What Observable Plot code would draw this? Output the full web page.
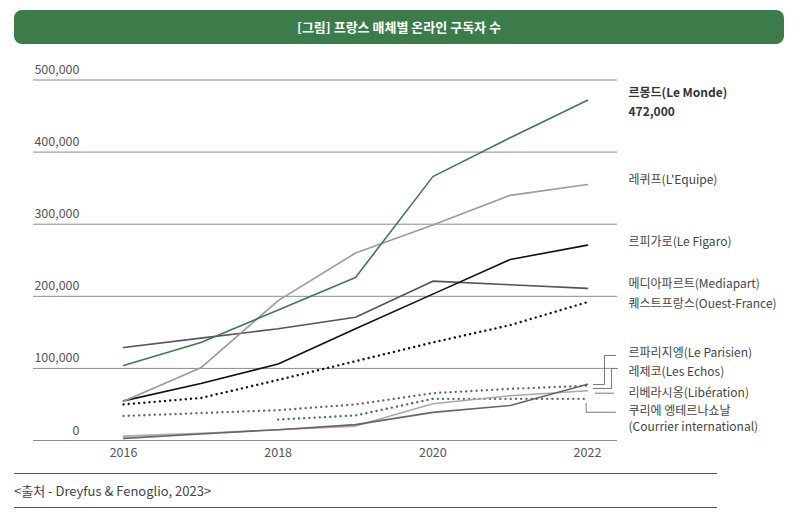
<!DOCTYPE html>
<html>
<head>
<meta charset="utf-8">
<script src="https://cdn.jsdelivr.net/npm/d3@7"></script>
<script src="https://cdn.jsdelivr.net/npm/@observablehq/plot@0.6"></script>
<style>
  html, body { margin: 0; padding: 0; background: #fff; }
  #wrap { position: relative; width: 798px; height: 521px; font-family: "Noto Sans CJK KR", "Noto Sans", sans-serif; }
  #title { position: absolute; left: 14px; top: 10px; width: 770px; height: 34px; background: #3c7b4a; border-radius: 8px;
           color: #fff; font-weight: 700; font-size: 13px; line-height: 34px; text-align: center; }
  #chart { position: absolute; left: 0; top: 50px; }
  #rule1, #rule2 { position: absolute; left: 14px; width: 703px; height: 0; border-top: 1.3px solid #555; }
  #rule1 { top: 473px; } #rule2 { top: 507px; }
  #source { position: absolute; left: 14px; top: 482px; font-size: 13px; color: #444; line-height: 18px; }
</style>
</head>
<body>
<div id="wrap">
  <div id="title">[그림] 프랑스 매체별 온라인 구독자 수</div>
  <div id="chart"></div>
  <div id="rule1"></div>
  <div id="source">&lt;출처 - Dreyfus &amp; Fenoglio, 2023&gt;</div>
  <div id="rule2"></div>
</div>
<script>
// ---- data ----
const years = [2016, 2017, 2018, 2019, 2020, 2021, 2022];
const leMonde     = [104000, 136000, 181000, 226000, 366000, 420000, 472000];
const lEquipe     = [54500, 100800, 194000, 260000, 299000, 340000, 355000];
const leFigaro    = [55000, 79000, 106000, 155000, 203000, 251000, 271000];
const mediapart   = [129000, 142000, 155000, 171000, 221000, 216000, 211000];
const ouestFrance = [50000, 59000, 84000, 110000, 136000, 160000, 192000];
const leParisien  = [3000, 9000, 15000, 22000, 39000, 48500, 78000];
const lesEchos    = [34000, 38000, 42000, 50000, 65600, 71600, 76000];
const liberation  = [6000, 10000, 15000, 20000, 51000, 62000, 69000];
const courrier    = [null, null, 29000, 34700, 57800, 57800, 57800];

const yTicks = [0, 100000, 200000, 300000, 400000, 500000];
const xTicks = [2016, 2018, 2020, 2022];

// right-side labels (text, y position in value units, weight)
const labelTexts = ["르몽드(Le Monde)", "472,000", "레퀴프(L'Equipe)", "르피가로(Le Figaro)", "메디아파르트(Mediapart)",
  "퀘스트프랑스(Ouest-France)", "르파리지엥(Le Parisien)", "레제코(Les Echos)", "리베라시옹(Libération)",
  "쿠리에 엥테르나쇼날", "(Courrier international)"];
const labelY = [481800, 455800, 360600, 274600, 216400, 188600, 120700, 94300, 65200, 40200, 18000];
const labelBold = [true, true, false, false, false, false, false, false, false, false, false];
const labelX = 2022.53;

// leader lines for crowded labels (x in years, y in values)
const connId = ["p","p","p","p", "e","e","e","e", "l","l", "c","c","c"];
const connX  = [2022.362, 2022.220, 2022.220, 2022.078,  2022.388, 2022.310, 2022.310, 2022.078,  2022.103, 2022.336,  2021.983, 2021.983, 2022.362];
const connY  = [117900, 117900, 77700, 77700,  99900, 99900, 72100, 72100,  65600, 65600,  51300, 39200, 39200];

// ---- build tables ----
function rows(arr) {
  return years.map((yr, i) => ({year: yr, value: arr[i]})).filter(d => d.value != null);
}
const labels = labelTexts.map((t, i) => ({text: t, y: labelY[i], bold: labelBold[i], x: labelX}));
const conns = connId.map((id, i) => ({id, x: connX[i], y: connY[i]}));

const green = "#3c7b4a";
const solid = (arr, color) => Plot.line(rows(arr), {x: "year", y: "value", stroke: color, strokeWidth: 1.6});
const dotted = (arr, color) => Plot.line(rows(arr), {x: "year", y: "value", stroke: color, strokeWidth: 2.4,
  strokeDasharray: "0.01,5.2", strokeLinecap: "round"});

const chart = Plot.plot({
  width: 798,
  height: 415,
  marginLeft: 33,
  marginRight: 181,
  marginTop: 29.5,
  marginBottom: 25,
  style: {fontFamily: "'Noto Sans CJK KR', 'Noto Sans', sans-serif", fontSize: "12.5px", color: "#555", background: "transparent"},
  x: {domain: [2014.836, 2022.388]},
  y: {domain: [0, 500000]},
  marks: [
    Plot.gridY(yTicks, {stroke: "#8a8a8a", strokeOpacity: 1, strokeWidth: 1}),
    Plot.axisY(yTicks, {tickSize: 0, tickPadding: 0, textAnchor: "end", dx: 46, dy: -10, tickFormat: d3.format(","), fill: "#555", label: null}),
    Plot.axisX(xTicks, {tickSize: 0, tickPadding: 8, tickFormat: d => String(d), fill: "#555", label: null}),
    dotted(lesEchos, "#666"),
    dotted(courrier, green),
    solid(liberation, "#a8a8a8"),
    solid(leParisien, "#666"),
    dotted(ouestFrance, "#111"),
    solid(mediapart, "#555"),
    solid(leFigaro, "#111"),
    solid(lEquipe, "#9a9a9a"),
    solid(leMonde, green),
    Plot.line(conns, {x: "x", y: "y", z: "id", stroke: "#777", strokeWidth: 1}),
    Plot.text(labels.filter(d => d.bold), {x: "x", y: "y", text: "text", textAnchor: "start", fill: "#333", fontSize: 12, fontWeight: 700}),
    Plot.text(labels.filter(d => !d.bold), {x: "x", y: "y", text: "text", textAnchor: "start", fill: "#444", fontSize: 12})
  ]
});
document.getElementById("chart").appendChild(chart);
</script>
</body>
</html>
